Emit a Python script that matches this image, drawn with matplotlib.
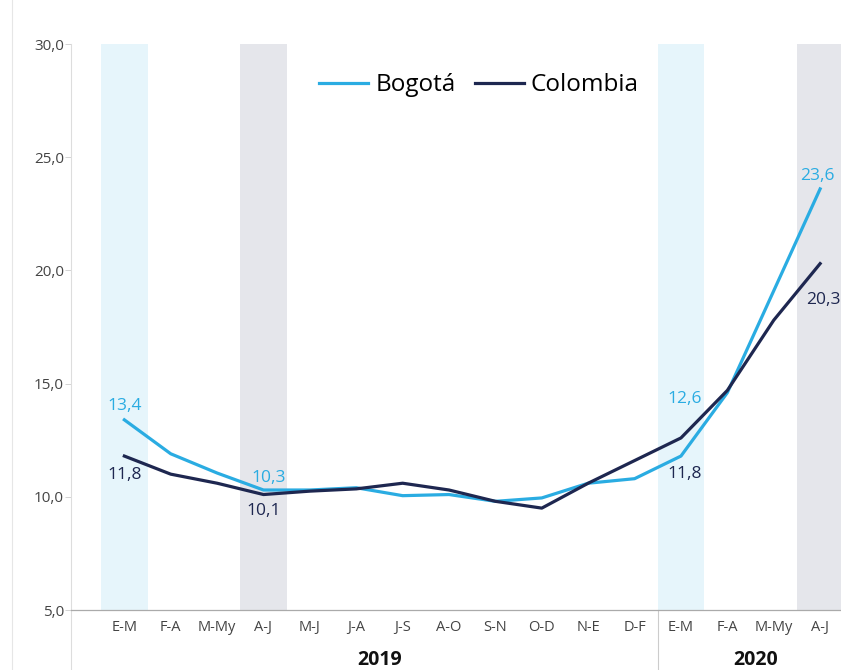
import numpy as np
import matplotlib.pyplot as plt
from matplotlib.lines import Line2D

plt.rcParams["font.family"] = ["Open Sans", "DejaVu Sans"]

# Rolling two-month windows, 2019 through mid-2020
periods = ["E-M", "F-A", "M-My", "A-J", "M-J", "J-A", "J-S", "A-O",
           "S-N", "O-D", "N-E", "D-F", "E-M", "F-A", "M-My", "A-J"]
bogota = [13.4, 11.9, 11.05, 10.3, 10.3, 10.4, 10.05, 10.1,
          9.8, 9.95, 10.6, 10.8, 11.8, 14.6, 19.1, 23.6]
colombia = [11.8, 11.0, 10.6, 10.1, 10.25, 10.35, 10.6, 10.3,
            9.8, 9.5, 10.6, 11.6, 12.6, 14.7, 17.8, 20.3]
years = ["2019", "2020"]
year_centers = [5.5, 13.6]

# labelled points: (index, text, colour key, offset in points)
labels = [
    (0, "13,4", "b", (0, 10)),
    (0, "11,8", "c", (0, -14)),
    (3, "10,3", "b", (4, 9)),
    (3, "10,1", "c", (0, -12)),
    (12, "12,6", "b", (3, 28)),
    (12, "11,8", "c", (3, -13)),
    (15, "23,6", "b", (-2, 9)),
    (15, "20,3", "c", (2, -26)),
]

BLUE = "#2aace2"
NAVY = "#1e2750"
colors = {"b": BLUE, "c": NAVY}

fig = plt.figure(figsize=(8.41, 6.70), dpi=100)
ax = fig.add_axes([71 / 841, 60 / 670, 770 / 841, 566 / 670])

x = np.arange(len(periods))

# shaded highlight columns
for i, c in [(0, "#e6f5fb"), (3, "#e5e6eb"), (12, "#e6f5fb"), (15, "#e5e6eb")]:
    ax.axvspan(i - 0.5, i + 0.5, ymin=0, ymax=1, color=c, lw=0, zorder=0)

ax.plot(x, bogota, color=BLUE, lw=2.3, zorder=3, solid_joinstyle="round")
ax.plot(x, colombia, color=NAVY, lw=2.3, zorder=3, solid_joinstyle="round")

for i, txt, k, off in labels:
    val = bogota[i] if k == "b" else colombia[i]
    if i == 12:
        # first 2020 window: labels sit above/below rather than by series
        val = colombia[i] if k == "b" else bogota[i]
    ax.annotate(txt, (i, val), xytext=off, textcoords="offset points",
                ha="center", va="center", fontsize=12.5, color=colors[k],
                annotation_clip=False, zorder=4)

ax.set_xlim(-1.15, 15.45)
ax.set_ylim(5, 30)
ax.set_yticks([5, 10, 15, 20, 25, 30])
ax.set_yticklabels(["5,0", "10,0", "15,0", "20,0", "25,0", "30,0"])
ax.set_xticks(x)
ax.set_xticklabels(periods)
ax.tick_params(axis="x", length=0, pad=7, labelsize=10.5, colors="#444444")
ax.tick_params(axis="y", length=4, width=0.6, color="#cccccc", pad=1,
               labelsize=11, labelcolor="#444444")

for side in ["top", "right"]:
    ax.spines[side].set_visible(False)
ax.spines["left"].set_color("#dddddd")
ax.spines["left"].set_linewidth(0.8)
ax.spines["bottom"].set_color("#aaaaaa")
ax.spines["bottom"].set_linewidth(0.9)

# year labels and the separator between them
for yr, xc in zip(years, year_centers):
    ax.text(xc, -0.088, yr, transform=ax.get_xaxis_transform(),
            ha="center", va="center", fontsize=14, fontweight="bold",
            color="#111111")
ax.plot([11.5, 11.5], [0, -0.11], transform=ax.get_xaxis_transform(),
        color="#cccccc", lw=0.8, clip_on=False)
ax.plot([-1.15, -1.15], [0, -0.11], transform=ax.get_xaxis_transform(),
        color="#dddddd", lw=0.8, clip_on=False)
fig.add_artist(Line2D([12 / 841, 12 / 841], [0, 1], color="#e6e6e6", lw=0.8))

handles = [Line2D([], [], color=BLUE, lw=2.3), Line2D([], [], color=NAVY, lw=2.3)]
ax.legend(handles, ["Bogotá", "Colombia"], loc="center", ncol=2,
          bbox_to_anchor=(0.53, 0.927), frameon=False, fontsize=17.5,
          handlelength=2.0, columnspacing=0.8, handletextpad=0.3)

fig.savefig("out.png", dpi=100)
